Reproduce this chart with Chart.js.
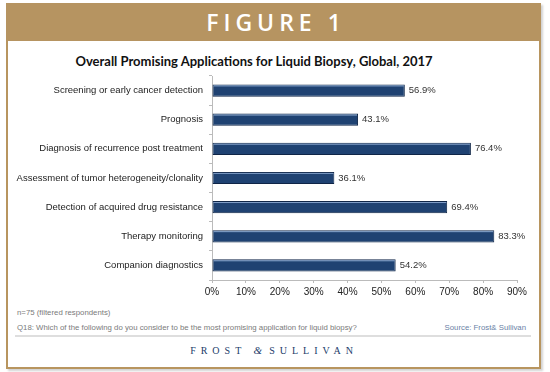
<!DOCTYPE html>
<html>
<head>
<meta charset="utf-8">
<script src="https://cdn.jsdelivr.net/npm/chart.js@4.4.1/dist/chart.umd.min.js"></script>
<style>
    html, body { margin: 0; padding: 0; background: #fff; }
    body { width: 550px; height: 372px; position: relative; overflow: hidden; font-family: 'Liberation Sans', Arial, sans-serif; }
    .frame {
        position: absolute; left: 6px; top: 3px; width: 531px; height: 362px;
        border: 2px solid #b8955f; background: #fff;
        box-shadow: 2px 2px 2px rgba(0,0,0,0.18);
    }
    .header {
        position: absolute; left: 6px; top: 3px; width: 535px; height: 38px;
        background: #b69461; color: #fff; text-align: center;
        font-family: 'Open Sans', sans-serif; font-weight: 600; font-size: 23px;
        letter-spacing: 5px; line-height: 38px; text-indent: 5px;
    }
    .title {
        position: absolute; left: 0; width: 508px; top: 53px; text-align: center;
        font-family: Lato, 'Open Sans', sans-serif; font-weight: bold; font-size: 13px;
        color: #111; white-space: nowrap;
    }
    #chartWrap { position: absolute; left: 8px; top: 41px; width: 530px; height: 262px; }
    .note { position: absolute; font-size: 7.8px; color: #7a7a7a; white-space: nowrap; }
    .rule { position: absolute; left: 15px; top: 335px; width: 516px; height: 2px; background: #dedede; }
    .brand {
        position: absolute; left: 0; width: 548px; top: 344px; text-align: center;
        font-family: 'Liberation Serif', 'DejaVu Serif', serif; font-size: 10px;
        letter-spacing: 5px; color: #223c6a;
    }
    .brand i { font-size: 11px; letter-spacing: 7px; }
</style>
</head>
<body>
<div class="frame"></div>
<div class="header">FIGURE 1</div>
<div class="title">Overall Promising Applications for Liquid Biopsy, Global, 2017</div>
<div id="chartWrap"><canvas id="biopsyChart" width="530" height="262"></canvas></div>
<div class="note" style="left:17px; top:308px;">n=75 (filtered respondents)</div>
<div class="note" style="left:17px; top:323px;">Q18: Which of the following do you consider to be the most promising application for liquid biopsy?</div>
<div class="note" style="right:24px; top:323px; color:#6a7fa6;">Source: Frost&amp; Sullivan</div>
<div class="rule"></div>
<div class="brand">FROST <i>&amp;</i>SULLIVAN</div>

<script>
// --- Data ---
const categories = [
    'Screening or early cancer detection',
    'Prognosis',
    'Diagnosis of recurrence post treatment',
    'Assessment of tumor heterogeneity/clonality',
    'Detection of acquired drug resistance',
    'Therapy monitoring',
    'Companion diagnostics'
];
const shares = [56.9, 43.1, 76.4, 36.1, 69.4, 83.3, 54.2];
const xTicks = [0, 10, 20, 30, 40, 50, 60, 70, 80, 90];

// value labels + top highlight on each bar
const barDecor = {
    id: 'barDecor',
    afterDatasetsDraw(chart) {
        const ctx = chart.ctx;
        const meta = chart.getDatasetMeta(0);
        ctx.save();
        meta.data.forEach((bar, i) => {
            const top = bar.y - bar.height / 2;
            ctx.strokeStyle = 'rgba(140,170,210,0.9)';
            ctx.lineWidth = 1;
            ctx.beginPath();
            ctx.moveTo(bar.base + 1, top + 1.5);
            ctx.lineTo(bar.x - 1, top + 1.5);
            ctx.stroke();

            ctx.fillStyle = '#333';
            ctx.font = '9.5px "Liberation Sans", Arial, sans-serif';
            ctx.textAlign = 'left';
            ctx.textBaseline = 'middle';
            ctx.fillText(shares[i].toFixed(1) + '%', bar.x + 4, bar.y);
        });
        ctx.restore();
    }
};

const canvas = document.getElementById('biopsyChart');
new Chart(canvas.getContext('2d'), {
    type: 'bar',
    data: {
        labels: categories,
        datasets: [{
            data: shares,
            backgroundColor: '#1f4272',
            borderColor: '#0f2547',
            borderWidth: 1,
            borderSkipped: false,
            barPercentage: 0.42,
            categoryPercentage: 1
        }]
    },
    options: {
        indexAxis: 'y',
        responsive: false,
        animation: false,
        layout: { padding: { left: 0, right: 21, top: 35, bottom: 3 } },
        plugins: {
            legend: { display: false },
            tooltip: { enabled: false }
        },
        scales: {
            x: {
                min: 0,
                max: 90,
                afterBuildTicks: (scale) => { scale.ticks = xTicks.map(v => ({ value: v })); },
                afterFit: (scale) => { scale.height = 20; },
                grid: { drawOnChartArea: false, tickLength: 3, color: '#bbb' },
                border: { color: '#bbb' },
                ticks: {
                    color: '#222',
                    padding: 3,
                    font: { family: '"Liberation Sans", Arial, sans-serif', size: 10 },
                    callback: (v) => v + '%'
                }
            },
            y: {
                afterFit: (scale) => { scale.width = 204; },
                grid: { drawOnChartArea: false, tickLength: 3, color: '#bbb', offset: true },
                border: { color: '#bbb' },
                ticks: {
                    color: '#222',
                    padding: 6,
                    font: { family: '"Liberation Sans", Arial, sans-serif', size: 9.5 }
                }
            }
        }
    },
    plugins: [barDecor]
});
</script>
</body>
</html>
